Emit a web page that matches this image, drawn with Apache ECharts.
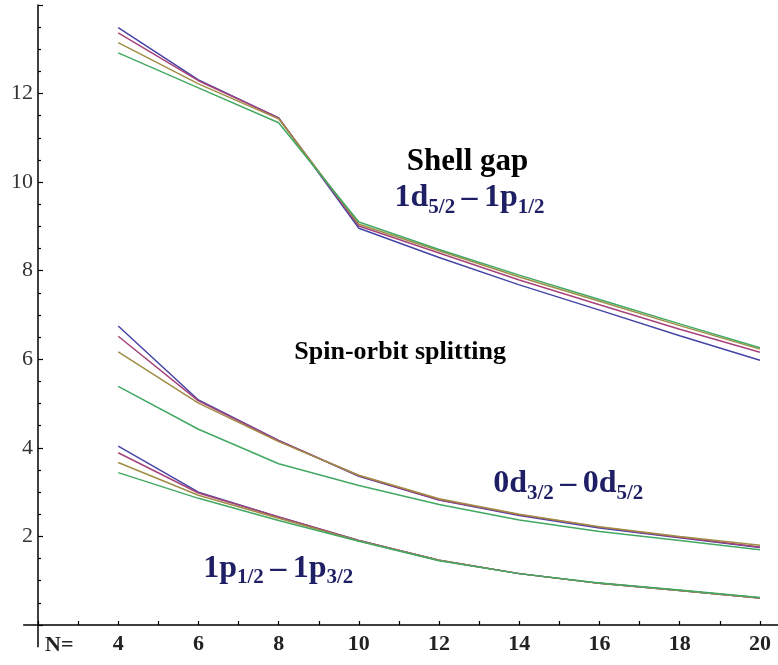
<!DOCTYPE html>
<html>
<head>
<meta charset="utf-8">
<script src="https://cdn.jsdelivr.net/npm/echarts@6/dist/echarts.min.js"></script>
<style>html,body{margin:0;padding:0;background:#fff;}#c{width:778px;height:665px;}</style>
</head>
<body>
<div id="c"></div>
<script>
// Neutron number N (x values)
var N = [4, 6, 8, 10, 12, 14, 16, 18, 20];
// Shell gap 1d5/2 - 1p1/2
var gapBlue    = [13.49, 12.31, 11.45, 8.96, 8.30, 7.68, 7.11, 6.53, 5.98];
var gapMagenta = [13.37, 12.29, 11.45, 9.01, 8.40, 7.79, 7.23, 6.68, 6.16];
var gapBrown   = [13.15, 12.22, 11.43, 9.05, 8.45, 7.86, 7.31, 6.76, 6.23];
var gapGreen   = [12.92, 12.13, 11.34, 9.10, 8.48, 7.90, 7.35, 6.80, 6.26];
// Spin-orbit splitting 0d3/2 - 0d5/2
var dBlue    = [6.75, 5.08, 4.17, 3.36, 2.82, 2.47, 2.19, 1.97, 1.75];
var dMagenta = [6.52, 5.06, 4.16, 3.37, 2.83, 2.49, 2.21, 1.98, 1.76];
var dBrown   = [6.17, 5.01, 4.14, 3.38, 2.85, 2.50, 2.22, 2.00, 1.80];
var dGreen   = [5.39, 4.42, 3.64, 3.15, 2.72, 2.37, 2.11, 1.91, 1.70];
// Spin-orbit splitting 1p1/2 - 1p3/2
var pBlue    = [4.04, 3.00, 2.44, 1.91, 1.46, 1.16, 0.94, 0.78, 0.61];
var pMagenta = [3.89, 2.98, 2.44, 1.91, 1.46, 1.16, 0.94, 0.78, 0.61];
var pBrown   = [3.67, 2.93, 2.41, 1.90, 1.46, 1.16, 0.94, 0.78, 0.61];
var pGreen   = [3.44, 2.86, 2.36, 1.89, 1.45, 1.16, 0.95, 0.79, 0.62];
// Tick labels
var yTickLabels = [2, 4, 6, 8, 10, 12];
var xTickLabels = [4, 6, 8, 10, 12, 14, 16, 18, 20];

var colors = {blue: '#4545a6', magenta: '#a6437a', brown: '#a08c45', green: '#42a862'};

function pairs(ys) { return N.map(function (n, i) { return [n, ys[i]]; }); }
function line(ys, c) {
  return {type: 'line', data: pairs(ys), showSymbol: false, symbol: 'none', silent: true,
    lineStyle: {color: c, width: 1.5}, itemStyle: {color: c}, z: 2, animation: false};
}

var series = [
  line(gapBlue, colors.blue), line(gapMagenta, colors.magenta), line(gapBrown, colors.brown), line(gapGreen, colors.green),
  line(dBlue, colors.blue), line(dMagenta, colors.magenta), line(dBrown, colors.brown), line(dGreen, colors.green),
  line(pBlue, colors.blue), line(pMagenta, colors.magenta), line(pBrown, colors.brown), line(pGreen, colors.green)
];

var chart = echarts.init(document.getElementById('c'), null, {renderer: 'canvas'});
var font = '"Liberation Serif", "DejaVu Serif", serif';
chart.setOption({
  backgroundColor: '#fff',
  animation: false,
  grid: {left: 38, right: 0, top: 5, bottom: 40, containLabel: false},
  xAxis: {
    type: 'value', min: 2, max: 20.45, interval: 1,
    axisLine: {show: true, onZero: false, lineStyle: {color: '#000', width: 1.5}},
    axisTick: {show: true, inside: true, length: 4, lineStyle: {color: '#000', width: 1.2}},
    splitLine: {show: false},
    axisLabel: {
      margin: 8, fontFamily: font, fontSize: 22, fontWeight: 'bold', color: '#222',
      showMaxLabel: false,
      formatter: function (v) { return xTickLabels.indexOf(v) >= 0 ? String(v) : ''; }
    }
  },
  yAxis: {
    type: 'value', min: 0, max: 14, interval: 2,
    axisLine: {show: true, onZero: false, lineStyle: {color: '#000', width: 1.5}},
    axisTick: {show: true, inside: true, length: 5, lineStyle: {color: '#000', width: 1.2}},
    minorTick: {show: true, splitNumber: 4, length: 3, lineStyle: {color: '#000', width: 1.2}},
    splitLine: {show: false},
    minorSplitLine: {show: false},
    axisLabel: {
      margin: 5, fontFamily: font, fontSize: 22, color: '#333',
      formatter: function (v) { return yTickLabels.indexOf(v) >= 0 ? String(v) : ''; }
    }
  },
  series: series
});

function px(x, y) { return chart.convertToPixel({gridIndex: 0}, [x, y]); }
var o = px(2, 0), xl = px(1.63, 0), yb = px(2, -0.5);
var main = {fontFamily: font, fontWeight: 'bold', fontSize: 32, lineHeight: 32, verticalAlign: 'top', fill: '#1f1f66'};
var sub = {fontFamily: font, fontWeight: 'bold', fontSize: 21, lineHeight: 21, padding: [15, 0, 0, 0], verticalAlign: 'top', fill: '#1f1f66'};
function richText(pos, text) {
  return {type: 'text', x: pos[0], y: pos[1], z: 10, silent: true,
    style: {text: text, align: 'center', verticalAlign: 'middle', rich: {m: main, s: sub}}};
}
var g = [
  {type: 'line', shape: {x1: xl[0], y1: o[1], x2: o[0], y2: o[1]}, style: {stroke: '#000', lineWidth: 1.5}, silent: true},
  {type: 'line', shape: {x1: o[0], y1: o[1], x2: o[0], y2: yb[1]}, style: {stroke: '#000', lineWidth: 1.5}, silent: true}
];
var pN = px(2.53, -0.46);
g.push({type: 'text', x: pN[0], y: pN[1], silent: true,
  style: {text: 'N=', font: 'bold 22px ' + font, fill: '#222', align: 'center', verticalAlign: 'middle'}});
var pS = px(12.71, 10.46);
g.push({type: 'text', x: pS[0], y: pS[1], silent: true,
  style: {text: 'Shell gap', font: 'bold 31px ' + font, fill: '#000', align: 'center', verticalAlign: 'middle'}});
var pSO = px(11.03, 6.16);
g.push({type: 'text', x: pSO[0], y: pSO[1], silent: true,
  style: {text: 'Spin-orbit splitting', font: 'bold 26px ' + font, fill: '#000', align: 'center', verticalAlign: 'middle'}});
g.push(richText(px(12.76, 9.64), '{m|1d}{s|5/2}{m|\u2009\u2013\u20091p}{s|1/2}'));
g.push(richText(px(15.22, 3.18), '{m|0d}{s|3/2}{m|\u2009\u2013\u20090d}{s|5/2}'));
g.push(richText(px(7.99, 1.28), '{m|1p}{s|1/2}{m|\u2009\u2013\u20091p}{s|3/2}'));
chart.setOption({graphic: g});
</script>
</body>
</html>
